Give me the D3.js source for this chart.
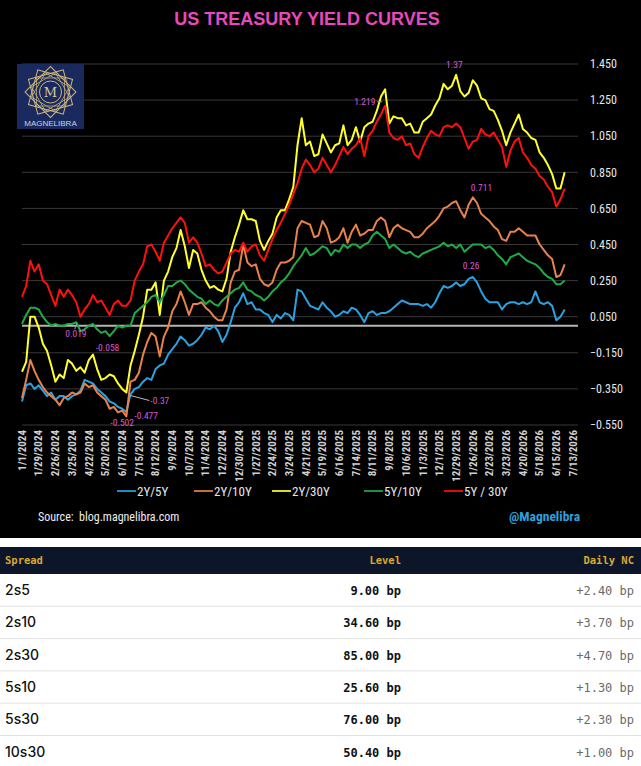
<!DOCTYPE html>
<html><head><meta charset="utf-8">
<script src="https://cdn.jsdelivr.net/npm/d3@7/dist/d3.min.js"></script>
<style>
html,body{margin:0;padding:0;background:#fff;}
svg{display:block;}
</style></head>
<body>
<svg id="c" width="641" height="766"></svg>
<script>
// ---------- DATA ----------
const startDate = "2024-01-01";          // first weekly observation
const seriesNames = ["2Y/5Y","2Y/10Y","2Y/30Y","5Y/10Y","5Y / 30Y"];
const seriesColors = ["#2aa2e2","#e8824c","#ffff2e","#1eab48","#ff1010"];

const s2y5y = [-0.42,-0.33,-0.32,-0.35,-0.33,-0.36,-0.39,-0.37,-0.41,-0.39,
 -0.39,-0.41,-0.39,-0.38,-0.36,-0.30,-0.31,-0.32,-0.35,-0.37,
 -0.39,-0.42,-0.43,-0.45,-0.46,-0.477,-0.38,-0.35,-0.34,-0.31,
 -0.29,-0.30,-0.24,-0.22,-0.21,-0.16,-0.13,-0.10,-0.06,-0.08,
 -0.11,-0.10,-0.08,-0.05,-0.01,-0.02,0.00,-0.03,-0.09,-0.05,
 0.02,0.10,0.13,0.18,0.12,0.13,0.09,0.09,0.07,0.06,
 0.02,0.06,0.04,0.07,0.06,0.03,0.20,0.19,0.15,0.11,
 0.10,0.09,0.13,0.10,0.08,0.05,0.06,0.08,0.07,0.10,
 0.09,0.06,0.02,0.07,0.08,0.06,0.07,0.07,0.08,0.10,
 0.12,0.14,0.13,0.12,0.12,0.12,0.11,0.12,0.10,0.13,
 0.18,0.22,0.21,0.22,0.24,0.22,0.23,0.26,0.27,0.24,
 0.19,0.15,0.13,0.13,0.13,0.09,0.12,0.13,0.13,0.12,
 0.13,0.12,0.13,0.19,0.13,0.12,0.13,0.11,0.03,0.05,0.09];

const s2y10y = [-0.40,-0.30,-0.19,-0.25,-0.30,-0.34,-0.37,-0.39,-0.41,-0.44,
 -0.40,-0.39,-0.37,-0.38,-0.37,-0.32,-0.34,-0.33,-0.37,-0.39,
 -0.41,-0.46,-0.45,-0.48,-0.47,-0.502,-0.31,-0.30,-0.26,-0.16,
 -0.09,-0.04,-0.06,-0.17,-0.06,-0.01,0.08,0.12,0.19,0.13,
 0.06,0.12,0.12,0.13,0.10,0.08,0.05,0.03,0.03,0.09,
 0.24,0.30,0.31,0.45,0.35,0.33,0.34,0.26,0.23,0.22,
 0.24,0.31,0.35,0.35,0.36,0.38,0.54,0.58,0.57,0.56,
 0.49,0.50,0.58,0.54,0.46,0.47,0.49,0.54,0.46,0.52,
 0.56,0.50,0.51,0.53,0.53,0.58,0.60,0.58,0.49,0.54,
 0.56,0.54,0.53,0.52,0.49,0.49,0.51,0.54,0.56,0.58,
 0.61,0.65,0.66,0.68,0.69,0.64,0.60,0.67,0.711,0.68,
 0.62,0.60,0.58,0.55,0.53,0.48,0.47,0.52,0.52,0.54,
 0.52,0.50,0.50,0.50,0.45,0.42,0.39,0.37,0.27,0.28,0.34];

const s2y30y = [-0.255,-0.20,0.05,0.05,-0.01,-0.10,-0.14,-0.22,-0.31,-0.27,
 -0.29,-0.19,-0.21,-0.25,-0.23,-0.26,-0.19,-0.16,-0.24,-0.30,
 -0.29,-0.27,-0.28,-0.32,-0.35,-0.37,-0.22,-0.14,-0.05,0.05,
 0.20,0.20,0.24,0.06,0.25,0.30,0.38,0.43,0.53,0.44,
 0.32,0.42,0.40,0.31,0.25,0.21,0.22,0.20,0.19,0.26,
 0.41,0.49,0.56,0.64,0.59,0.59,0.58,0.47,0.42,0.47,
 0.51,0.60,0.64,0.64,0.70,0.77,1.00,1.15,1.00,1.02,
 0.94,0.95,1.06,1.01,0.96,1.00,1.01,1.11,1.00,1.03,
 1.10,1.02,1.10,1.12,1.13,1.19,1.27,1.31,1.12,1.16,
 1.15,1.15,1.11,1.12,1.07,1.07,1.13,1.15,1.17,1.22,
 1.26,1.34,1.31,1.33,1.39,1.30,1.27,1.29,1.36,1.33,
 1.26,1.25,1.20,1.19,1.14,1.08,1.00,1.07,1.12,1.17,
 1.09,1.07,1.04,1.03,0.96,0.93,0.89,0.84,0.76,0.76,0.85];

const s5y10y = [0.01,0.06,0.10,0.10,0.09,0.05,0.02,0.00,0.01,0.00,
 0.00,0.01,0.01,0.019,-0.03,-0.02,0.00,0.01,-0.02,-0.04,
 -0.03,-0.058,-0.03,0.00,-0.01,0.00,0.00,0.07,0.09,0.11,
 0.13,0.16,0.17,0.13,0.17,0.22,0.22,0.24,0.25,0.23,
 0.20,0.18,0.16,0.15,0.12,0.14,0.12,0.11,0.14,0.16,
 0.18,0.20,0.21,0.24,0.20,0.19,0.17,0.16,0.14,0.16,
 0.19,0.21,0.24,0.26,0.29,0.33,0.36,0.39,0.43,0.39,
 0.40,0.42,0.44,0.43,0.39,0.42,0.41,0.45,0.43,0.45,
 0.45,0.43,0.45,0.46,0.50,0.52,0.50,0.48,0.43,0.45,
 0.43,0.41,0.40,0.41,0.39,0.38,0.40,0.41,0.42,0.43,
 0.44,0.46,0.44,0.45,0.43,0.45,0.41,0.43,0.45,0.45,
 0.45,0.43,0.44,0.42,0.39,0.37,0.34,0.38,0.39,0.40,
 0.38,0.36,0.35,0.34,0.32,0.29,0.27,0.26,0.23,0.23,0.25];

const s5y30y = [0.16,0.22,0.36,0.30,0.34,0.25,0.23,0.17,0.11,0.20,
 0.16,0.20,0.17,0.13,0.05,0.09,0.12,0.17,0.13,0.14,
 0.10,0.06,0.12,0.14,0.11,0.11,0.14,0.25,0.30,0.34,
 0.44,0.45,0.41,0.36,0.46,0.50,0.54,0.57,0.60,0.57,
 0.46,0.49,0.46,0.40,0.33,0.34,0.31,0.29,0.30,0.35,
 0.40,0.42,0.41,0.46,0.41,0.44,0.45,0.39,0.36,0.42,
 0.48,0.53,0.57,0.62,0.67,0.73,0.79,0.87,0.92,0.89,
 0.85,0.87,0.93,0.89,0.85,0.89,0.94,0.99,0.95,0.98,
 1.00,1.04,0.94,1.05,1.08,1.13,1.17,1.219,1.07,1.04,
 1.03,1.05,1.00,1.01,0.95,0.93,0.99,1.04,1.08,1.06,
 1.05,1.10,1.11,1.10,1.12,1.10,1.04,0.98,1.02,1.03,
 1.09,1.06,1.05,1.07,1.03,0.99,0.88,0.97,1.02,1.04,
 0.96,0.93,0.89,0.87,0.83,0.81,0.77,0.74,0.66,0.70,0.76];

const xTickLabels = ["1/1/2024","1/29/2024","2/26/2024","3/25/2024","4/22/2024","5/20/2024","6/17/2024",
 "7/15/2024","8/12/2024","9/9/2024","10/7/2024","11/4/2024","12/2/2024","12/30/2024","1/27/2025",
 "2/24/2025","3/24/2025","4/21/2025","5/19/2025","6/16/2025","7/14/2025","8/11/2025","9/8/2025",
 "10/6/2025","11/3/2025","12/1/2025","12/29/2025","1/26/2026","2/23/2026","3/23/2026","4/20/2026",
 "5/18/2026","6/15/2026","7/13/2026"];
const yTicks = [-0.55,-0.35,-0.15,0.05,0.25,0.45,0.65,0.85,1.05,1.25,1.45];

// annotations: [series index, point index, label]
const annotations = [
 [2,104,"1.37"],[4,87,"1.219"],[1,108,"0.711"],[0,108,"0.26"],
 [3,13,"0.019"],[3,21,"-0.058"],[2,25,"-0.37"],[0,25,"-0.477"],[1,25,"-0.502"]
];

const tableSpread = ["2s5","2s10","2s30","5s10","5s30","10s30"];
const tableLevel = [9.00,34.60,85.00,25.60,76.00,50.40];
const tableDaily = [2.40,3.70,4.70,1.30,2.30,1.00];

// ---------- DRAW ----------
const series = [s2y5y,s2y10y,s2y30y,s5y10y,s5y30y];
const parse = d3.timeParse("%m/%d/%Y");
const t0 = d3.timeParse("%Y-%m-%d")(startDate);
const dates = s2y5y.map((_,i)=>d3.timeDay.offset(t0,7*i));
const tickDates = xTickLabels.map(parse);

const svg = d3.select("#c");
const NARROW = "'Liberation Sans Narrow','Roboto Condensed','Liberation Sans',sans-serif";
const MONO = "'DejaVu Sans Mono','Liberation Mono',monospace";

svg.append("rect").attr("x",0).attr("y",0).attr("width",641).attr("height",538).attr("fill","#000");

const x = d3.scaleTime().domain([tickDates[0], tickDates[tickDates.length-1]]).range([22,573]);
const y = d3.scaleLinear().domain([-0.55,1.45]).range([425,64]);
const gridX0 = 22, gridX1 = 578;

// title
svg.append("text").attr("x",307).attr("y",25).attr("text-anchor","middle")
  .attr("font-family","'Liberation Sans',Arial,sans-serif").attr("font-weight","bold").attr("font-size",18)
  .attr("fill","#e44abd").text("US TREASURY YIELD CURVES");

// gridlines
svg.append("g").selectAll("line").data(yTicks).join("line")
  .attr("x1",gridX0).attr("x2",gridX1).attr("y1",d=>y(d)).attr("y2",d=>y(d))
  .attr("stroke","#383838").attr("stroke-width",1);

// y labels
svg.append("g").selectAll("text").data(yTicks).join("text")
  .attr("x",590).attr("y",d=>y(d)).attr("dy","0.35em")
  .attr("font-family",NARROW).attr("font-size",12).attr("fill","#e6e6e6")
  .text(d=>d3.format(".3f")(d));

// zero line
svg.append("line").attr("x1",gridX0).attr("x2",gridX1).attr("y1",y(0)).attr("y2",y(0))
  .attr("stroke","#b4b4b4").attr("stroke-width",2);

// x labels
svg.append("g").selectAll("text").data(tickDates).join("text")
  .attr("transform",d=>`translate(${x(d)+3.8},430) rotate(-90)`)
  .attr("text-anchor","end").attr("font-family",NARROW).attr("font-weight","bold")
  .attr("font-size",11).attr("fill","#cfcfcf")
  .text((d,i)=>xTickLabels[i]);

// lines
const line = d3.line().x((d,i)=>x(dates[i])).y(d=>y(d));
svg.append("g").selectAll("path").data(series).join("path")
  .attr("d",d=>line(d)).attr("fill","none")
  .attr("stroke",(d,i)=>seriesColors[i]).attr("stroke-width",2)
  .attr("stroke-linejoin","round");

// annotations
const annOffsets = {"1.37":[-10,-7],"1.219":[-31,-1],"0.711":[-2,-6],"0.26":[-10,-8],
 "0.019":[-11,15],"-0.058":[-14,15],"-0.37":[24,11],"-0.477":[8,7],"-0.502":[-16,10]};
const ag = svg.append("g");
annotations.forEach(([si,pi,lab])=>{
  const px = x(dates[pi]), py = y(series[si][pi]);
  const o = annOffsets[lab];
  ag.append("text").attr("x",px+o[0]).attr("y",py+o[1])
    .attr("font-family",NARROW).attr("font-size",9.5).attr("fill","#d45ad6").text(lab);
});
// leader lines
ag.append("line").attr("x1",x(dates[25])+4).attr("y1",y(s2y30y[25])+3)
  .attr("x2",x(dates[25])+23).attr("y2",y(s2y30y[25])+8).attr("stroke","#bbb").attr("stroke-width",1);
ag.append("line").attr("x1",x(dates[13])+0.5).attr("y1",y(s5y10y[13])+1)
  .attr("x2",x(dates[13])-1.5).attr("y2",y(s5y10y[13])+7).attr("stroke","#999").attr("stroke-width",1);
ag.append("line").attr("x1",x(dates[87])-8).attr("y1",y(s5y30y[87])-4)
  .attr("x2",x(dates[87])-3).attr("y2",y(s5y30y[87])-4).attr("stroke","#999").attr("stroke-width",1);

// legend
const legendX = [117,194,272,364,444];
const lg = svg.append("g");
seriesNames.forEach((n,i)=>{
  lg.append("line").attr("x1",legendX[i]).attr("x2",legendX[i]+19).attr("y1",491).attr("y2",491)
    .attr("stroke",seriesColors[i]).attr("stroke-width",2).attr("opacity",0.85);
  lg.append("text").attr("x",legendX[i]+20).attr("y",491).attr("dy","0.35em")
    .attr("font-family",NARROW).attr("font-size",13).attr("fill","#e6e6e6").text(n);
});

// source & handle
svg.append("text").attr("x",38).attr("y",521).attr("font-family",NARROW).attr("font-size",12)
  .attr("fill","#eee").attr("xml:space","preserve").text("Source:  blog.magnelibra.com");
svg.append("text").attr("x",580).attr("y",521).attr("text-anchor","end").attr("font-family",NARROW)
  .attr("font-weight","bold").attr("font-size",13.5).attr("fill","#2fa0da").text("@Magnelibra");

// logo
const logo = svg.append("g").attr("transform","translate(17,64)");
logo.append("rect").attr("width",67).attr("height",65).attr("fill","#1b2a5e");
const cx = 33.5, cy = 28;
[0,30,60].forEach(a=>{
  logo.append("rect").attr("x",cx-18).attr("y",cy-18).attr("width",36).attr("height",36)
    .attr("fill","none").attr("stroke","#cdb67c").attr("stroke-width",1)
    .attr("transform",`rotate(${a+15},${cx},${cy})`);
  logo.append("rect").attr("x",cx-14).attr("y",cy-14).attr("width",28).attr("height",28)
    .attr("fill","none").attr("stroke","#cdb67c").attr("stroke-width",0.7)
    .attr("transform",`rotate(${a},${cx},${cy})`);
});
logo.append("circle").attr("cx",cx).attr("cy",cy).attr("r",11).attr("fill","#1b2a5e")
  .attr("stroke","#cdb67c").attr("stroke-width",1);
logo.append("text").attr("x",cx).attr("y",cy+5).attr("text-anchor","middle")
  .attr("font-family","'DejaVu Serif',serif").attr("font-size",13).attr("fill","#d8c89a").text("M");
logo.append("text").attr("x",cx).attr("y",62).attr("text-anchor","middle")
  .attr("font-family","'Liberation Sans',sans-serif").attr("font-size",8).attr("fill","#c9cfe2")
  .text("MAGNELIBRA");

// ---------- TABLE ----------
const tTop = 547, headH = 27, rowH = 32.3;
svg.append("rect").attr("x",0).attr("y",tTop).attr("width",641).attr("height",headH).attr("fill","#0c1628");
const hdr = [["Spread",5,"start"],["Level",401,"end"],["Daily NC",634,"end"]];
hdr.forEach(([t,hx,anc])=>{
  svg.append("text").attr("x",hx).attr("y",tTop+17).attr("text-anchor",anc)
    .attr("font-family",MONO).attr("font-weight","bold").attr("font-size",10.5)
    .attr("fill","#d8a830").text(t);
});
const rows = svg.append("g");
tableSpread.forEach((s,i)=>{
  const top = tTop+headH+i*rowH;
  rows.append("text").attr("x",5).attr("y",top+21).attr("font-family","Inter,'Noto Sans',sans-serif")
    .attr("font-weight",500).attr("font-size",14).attr("fill","#111").text(s);
  rows.append("text").attr("x",401).attr("y",top+21).attr("text-anchor","end").attr("font-family",MONO)
    .attr("font-weight","bold").attr("font-size",12).attr("fill","#111")
    .text(d3.format(".2f")(tableLevel[i])+" bp");
  rows.append("text").attr("x",634).attr("y",top+21).attr("text-anchor","end").attr("font-family",MONO)
    .attr("font-size",12).attr("fill","#6a6a6a")
    .text("+"+d3.format(".2f")(tableDaily[i])+" bp");
  rows.append("line").attr("x1",0).attr("x2",641).attr("y1",top+rowH).attr("y2",top+rowH)
    .attr("stroke","#e2e2e2").attr("stroke-width",1);
});
</script>
</body></html>
